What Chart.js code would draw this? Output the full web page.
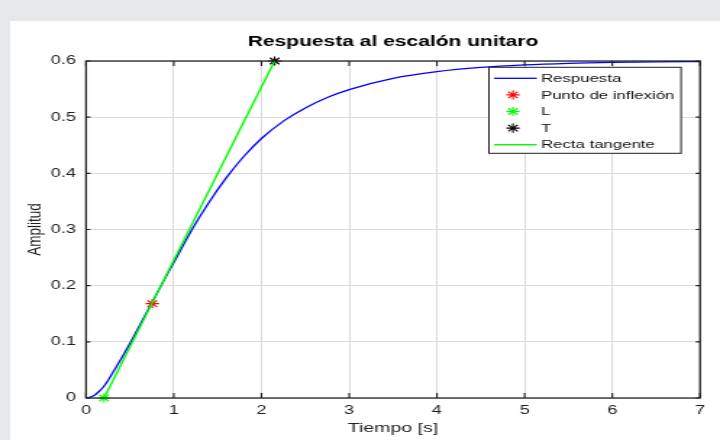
<!DOCTYPE html>
<html><head><meta charset="utf-8">
<script src="https://cdn.jsdelivr.net/npm/chart.js@4/dist/chart.umd.min.js"></script>
<style>
html,body{margin:0;padding:0;background:#e6e7e9;width:720px;height:440px;overflow:hidden}
#c{position:absolute;left:0;top:0;transform-origin:0 0;transform:scaleX(1.4487)}
</style></head><body>
<canvas id="c" width="497" height="440"></canvas>
<script>
// ---- data ----
const tiempo   = [0, 0.05, 0.1, 0.15, 0.2, 0.25, 0.3, 0.4, 0.5, 0.6, 0.7, 0.8, 0.9, 1.0, 1.2, 1.4, 1.6, 1.8, 2.0, 2.25, 2.5, 2.75, 3.0, 3.5, 4.0, 4.5, 5.0, 5.5, 6.0, 6.5, 7.0];
const amplitud = [0, 0.0015, 0.0055, 0.012, 0.020, 0.031, 0.044, 0.070, 0.097, 0.126, 0.155, 0.184, 0.213, 0.241, 0.2976, 0.348, 0.3924, 0.4304, 0.462, 0.493, 0.5165, 0.535, 0.549, 0.569, 0.581, 0.5885, 0.593, 0.5958, 0.5975, 0.5985, 0.5991];
const inflexionT = [0.755], inflexionA = [0.168];
const L_T = [0.205], L_A = [0];
const T_T = [2.15], T_A = [0.6];
const tangenteT = [0.205, 2.15], tangenteA = [0, 0.6];
const xTicks = [0, 1, 2, 3, 4, 5, 6, 7];
const yTicks = [0, 0.1, 0.2, 0.3, 0.4, 0.5, 0.6];
const yTickLabels = ['0', '0.1', '0.2', '0.3', '0.4', '0.5', '0.6'];
const seriesNames = ['Respuesta', 'Punto de inflexión', 'L', 'T', 'Recta tangente'];
const titulo = 'Respuesta al escalón unitaro';
const ejeX = 'Tiempo [s]', ejeY = 'Amplitud';

// ---- layout ----
const SX = 1.4487;
const FONT = '"Liberation Sans", Arial, Helvetica, sans-serif';
const INK = '#1f1f1f';
const pts = (xs, ys) => xs.map((x, i) => ({x: x, y: ys[i]}));

const bgPlugin = {
  id: 'bg',
  beforeDraw(chart) {
    const c = chart.ctx;
    c.save();
    c.fillStyle = '#e6e7e9';
    c.fillRect(0, 0, chart.width, chart.height);
    c.fillStyle = '#ffffff';
    c.fillRect(10 / SX, 21, chart.width, chart.height);
    c.restore();
  }
};

function drawAsterisk(c, x, y, r, color, w) {
  const d = r * 0.7071;
  c.strokeStyle = color;
  c.lineWidth = w;
  c.beginPath();
  c.moveTo(x - r, y); c.lineTo(x + r, y);
  c.moveTo(x, y - r); c.lineTo(x, y + r);
  c.moveTo(x - d, y - d); c.lineTo(x + d, y + d);
  c.moveTo(x - d, y + d); c.lineTo(x + d, y - d);
  c.stroke();
}

const framePlugin = {
  id: 'frame',
  afterDatasetsDraw(chart) {
    const c = chart.ctx, a = chart.chartArea;
    const xs = chart.scales.x, ys = chart.scales.y;
    c.save();
    c.strokeStyle = INK;
    c.lineWidth = 1.1;
    c.beginPath();
    xTicks.forEach(v => {
      const p = xs.getPixelForValue(v);
      c.moveTo(p, a.bottom); c.lineTo(p, a.bottom - 5);
      c.moveTo(p, a.top); c.lineTo(p, a.top + 5);
    });
    yTicks.forEach(v => {
      const p = ys.getPixelForValue(v);
      c.moveTo(a.left, p); c.lineTo(a.left + 3, p);
      c.moveTo(a.right, p); c.lineTo(a.right - 3, p);
    });
    c.stroke();
    c.lineWidth = 1.25;
    c.strokeRect(a.left, a.top, a.right - a.left, a.bottom - a.top);
    c.restore();
  },
  afterDraw(chart) {
    // legend box inside the axes (MATLAB style)
    const c = chart.ctx, a = chart.chartArea;
    const right = a.right - 13.1, top = a.top + 6.3;
    const left = right - 132.6, bottom = top + 86;
    c.save();
    c.fillStyle = '#fff';
    c.fillRect(left, top, right - left, bottom - top);
    c.strokeStyle = INK;
    c.lineWidth = 1;
    c.strokeRect(left, top, right - left, bottom - top);
    c.font = '11.6px ' + FONT;
    c.textBaseline = 'middle';
    c.textAlign = 'left';
    chart.data.datasets.forEach((ds, i) => {
      const y = top + 11 + i * 16.6;
      if (ds.showLine) {
        c.strokeStyle = ds.borderColor;
        c.lineWidth = ds.borderWidth;
        c.beginPath(); c.moveTo(left + 3.5, y); c.lineTo(left + 33, y); c.stroke();
      } else {
        drawAsterisk(c, left + 16.6, y, ds.pointRadius, ds.borderColor, ds.borderWidth);
      }
      c.fillStyle = '#111';
      c.fillText(ds.label, left + 35.9, y + 0.5);
    });
    c.restore();
  }
};

const starPoint = (name, xs, ys, color, ord) => ({
  label: name, data: pts(xs, ys), showLine: false,
  pointStyle: 'star', pointRadius: 4.6, pointHoverRadius: 4.6,
  borderColor: color, backgroundColor: color, borderWidth: 1.1,
  clip: false, order: ord
});

new Chart(document.getElementById('c'), {
  type: 'scatter',
  data: {
    datasets: [
      {label: seriesNames[0], data: pts(tiempo, amplitud), showLine: true,
       borderColor: '#0000ff', backgroundColor: '#0000ff', borderWidth: 1.3,
       pointRadius: 0, cubicInterpolationMode: 'monotone', order: 5},
      starPoint(seriesNames[1], inflexionT, inflexionA, '#ff0000', 4),
      starPoint(seriesNames[2], L_T, L_A, '#00ff00', 3),
      starPoint(seriesNames[3], T_T, T_A, '#000000', 2),
      {label: seriesNames[4], data: pts(tangenteT, tangenteA), showLine: true,
       borderColor: '#00ff00', backgroundColor: '#00ff00', borderWidth: 1.4,
       pointRadius: 0, clip: false, order: 1}
    ]
  },
  options: {
    responsive: false, animation: false, devicePixelRatio: 1,
    layout: {padding: {left: 0, right: 13.8, top: 33.3, bottom: 0}},
    plugins: {
      legend: {display: false},
      tooltip: {enabled: false},
      title: {display: true, text: titulo, fullSize: false, color: '#000',
        font: {family: FONT, size: 14.5, weight: 'bold', lineHeight: 1.2},
        padding: {top: 0, bottom: 10.3}}
    },
    scales: {
      x: {type: 'linear', min: 0, max: 7,
        afterFit(s) { s.height = 42; },
        afterBuildTicks(s) { s.ticks = xTicks.map(v => ({value: v})); },
        grid: {color: '#dcdcdc', lineWidth: 1, drawTicks: false},
        border: {display: false},
        ticks: {color: INK, padding: 5, font: {family: FONT, size: 12.5}, maxRotation: 0,
          callback: v => String(v)},
        title: {display: true, text: ejeX, color: INK,
          font: {family: FONT, size: 13.5, lineHeight: 1.2}, padding: {top: 0, bottom: 3.4}}
      },
      y: {type: 'linear', min: 0, max: 0.6,
        afterFit(s) { s.width = 59.4; },
        afterBuildTicks(s) { s.ticks = yTicks.map(v => ({value: v})); },
        grid: {color: '#dcdcdc', lineWidth: 1, drawTicks: false},
        border: {display: false},
        ticks: {color: INK, padding: 7, font: {family: FONT, size: 12.5},
          callback: (v, i) => yTickLabels[i]},
        title: {display: true, text: ejeY, color: INK,
          font: {family: FONT, size: 13.5, lineHeight: 1.2}, padding: {top: 16.6, bottom: 0}}
      }
    }
  },
  plugins: [bgPlugin, framePlugin]
});
</script>
</body></html>
